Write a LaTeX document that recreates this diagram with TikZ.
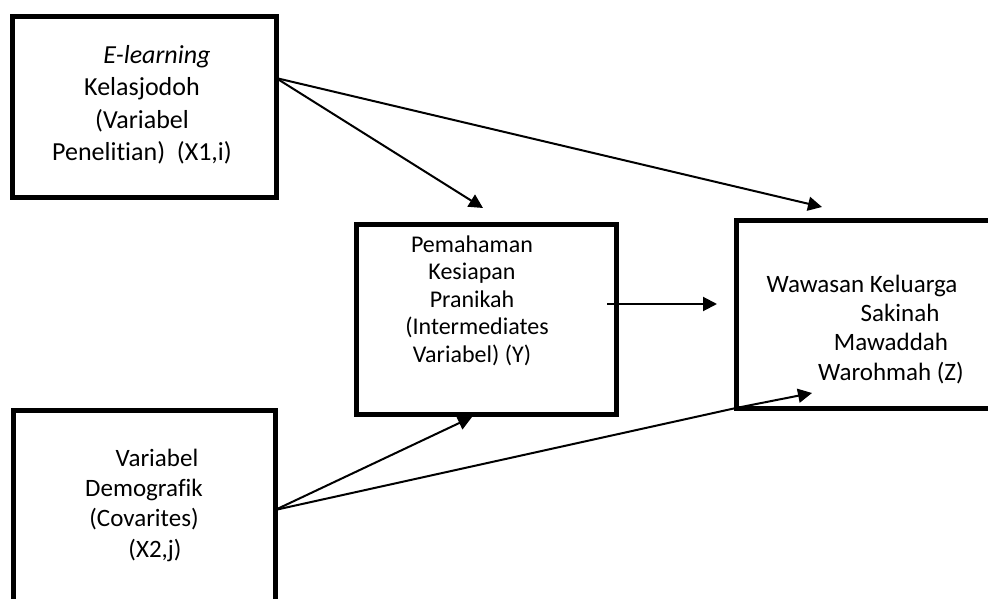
\documentclass[tikz,border=0pt]{standalone}
\usepackage{fontspec}
\setmainfont[Ligatures=CommonOff]{Carlito}
\usetikzlibrary{arrows.meta, positioning}

\begin{document}
\begin{tikzpicture}[x=1pt, y=-1pt,
    varbox/.style={draw, rectangle, line width=5pt, outer sep=0pt, inner sep=0pt},
    vartext/.style={align=center, anchor=north, inner sep=0pt},
    flow/.style={-{Triangle[length=14pt, width=14pt]}, line width=2pt}]
    \useasboundingbox (0,0) rectangle (988,599);
    \clip (0,0) rectangle (988,599);

    % boxes
    \node[varbox, minimum width=264pt, minimum height=180pt] (elearn) at (144,107) {};
    \node[varbox, minimum width=260pt, minimum height=190pt] (understand) at (486,319) {};
    \node[varbox, minimum width=264pt, minimum height=188pt] (insight) at (868,314) {};
    \node[varbox, minimum width=262pt, minimum height=200pt] (demog) at (144,510) {};

    % texts
    \node[vartext, font=\fontsize{26}{32.5}\selectfont] (elearnText) at (142,40.25)
        {\strut\hspace*{30pt}\textit{E-learning}\\Kelasjodoh\\(Variabel\\Penelitian)\ \ (X1,i)};
    \node[vartext, font=\fontsize{24}{27.5}\selectfont] (understandText) at (472,232.75)
        {\strut Pemahaman\\Kesiapan\\Pranikah\\\hspace*{10pt}(Intermediates\\Variabel) (Y)};
    \node[vartext, font=\fontsize{25}{29.3}\selectfont] (insightText) at (891,271.5)
        {\strut Wawasan Keluarga\hspace*{58pt}\\\hspace*{18pt}Sakinah\\Mawaddah\\Warohmah (Z)};
    \node[vartext, font=\fontsize{25}{30.3}\selectfont] (demogText) at (144,444.8)
        {\strut\hspace*{26pt}Variabel\\Demografik\\(Covarites)\\\hspace*{22pt}(X2,j)};

    % arrows
    \draw[flow] ([yshift=29pt]elearn.east) -- ([xshift=-3pt, yshift=16pt]understand.north);
    \draw[flow] ([yshift=29pt]elearn.east) -- ([xshift=86pt, yshift=13pt]insight.north west);
    \draw[flow] ([xshift=-9pt, yshift=15pt]understand.east) -- ([xshift=-19pt, yshift=10pt]insight.west);
    \draw[flow] (demog.east) -- ([xshift=-14pt, yshift=-3pt]understand.south);
    \draw[flow] (demog.east) -- (insight.south west) -- ([xshift=76pt, yshift=15pt]insight.south west);
\end{tikzpicture}
\end{document}
